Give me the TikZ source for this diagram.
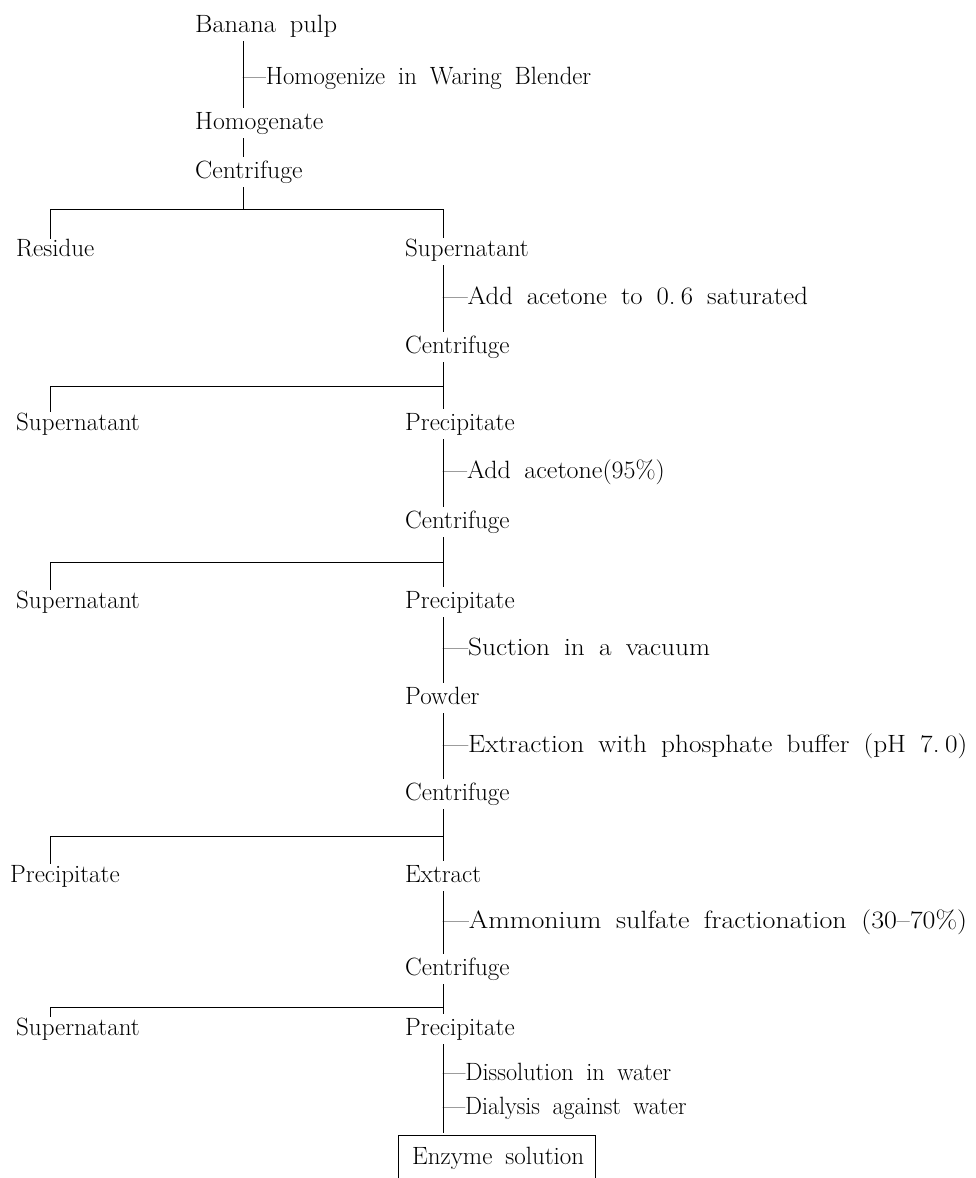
\documentclass[tikz,border=0pt]{standalone}
\usepackage{graphicx}
\newcommand{\diafont}{\fontsize{25}{30}\selectfont\spaceskip=13pt plus 2pt minus 1pt\relax}
\newcommand{\sx}[2]{\scalebox{#1}[1]{#2}}
\begin{document}
\begin{tikzpicture}[x=1pt,y=-1pt,
  lbl/.style={inner sep=0pt, anchor=base west, text height=17pt, text depth=5pt, font=\diafont},
  link/.style={draw=black, line width=0.8pt, shorten <=4pt, shorten >=4pt},
  rule/.style={draw=black, line width=0.8pt}]
\useasboundingbox (0,0) rectangle (976,1178);
% columns
\coordinate (A) at (243,0);
\coordinate (B) at (443,0);
\coordinate (L) at (50,0);
% top
\node[lbl] (banana) at (195,32) {\sx{1.06}{Banana pulp}};
\node[lbl] (st0) at (243,84) {\sx{0.99}{—Homogenize in Waring Blender}};
\node[lbl] (homog) at (195,129) {\sx{1.03}{Homogenate}};
\node[lbl] (cent0) at (195,178) {\sx{1.03}{Centrifuge}};
\node[lbl] (res1) at (16,256) {Residue};
\node[lbl] (sup1) at (405,256) {Supernatant};
% block 1
\node[lbl] (st1) at (443,304) {\sx{1.07}{—Add acetone to 0.\hspace{5pt}6 saturated}};
\node[lbl] (cent1) at (405,353) {Centrifuge};
\node[lbl] (sup2) at (16,430) {Supernatant};
\node[lbl] (prec2) at (405,430) {Precipitate};
% block 2
\node[lbl] (st2) at (443,478) {\sx{1.04}{—Add acetone(95\%)}};
\node[lbl] (cent2) at (405,528) {Centrifuge};
\node[lbl] (sup3) at (16,608) {Supernatant};
\node[lbl] (prec3) at (405,608) {Precipitate};
% block 3
\node[lbl] (st3) at (443,655) {\sx{1.09}{—Suction in a vacuum}};
\node[lbl] (powder) at (405,704) {Powder};
\node[lbl] (st4) at (443,752) {\sx{1.09}{—Extraction with phosphate buffer (pH 7.\hspace{5pt}0)}};
\node[lbl] (cent3) at (405,800) {Centrifuge};
\node[lbl] (prec4) at (10,882) {Precipitate};
\node[lbl] (extr) at (405,882) {Extract};
% block 4
\node[lbl] (st5) at (443,928) {\sx{1.12}{—Ammonium sulfate fractionation (30–70\%)}};
\node[lbl] (cent4) at (405,975) {Centrifuge};
\node[lbl] (sup5) at (16,1035) {Supernatant};
\node[lbl] (prec5) at (405,1035) {Precipitate};
\node[lbl] (st6) at (443,1080) {\sx{0.97}{—Dissolution in water}};
\node[lbl] (st7) at (443,1114) {\sx{0.96}{—Dialysis against water}};
\node[lbl] (enz) at (412,1164) {Enzyme solution};
% split points
\coordinate (h0) at (0,209);
\coordinate (h1) at (0,386);
\coordinate (h2) at (0,562);
\coordinate (h3) at (0,836);
\coordinate (h4) at (0,1007);
\coordinate (bl) at (398,1135);
\coordinate (br) at (595,1135);
\coordinate (bot) at (0,1178);
% top connectors
\path[link] (banana.south -| A) -- (homog.north -| A);
\path[link] (homog.south -| A) -- (cent0.north -| A);
\path[link, shorten >=0pt] (cent0.south -| A) -- (A |- h0);
\path[link, shorten <=0pt, shorten >=1pt] (L |- res1.north) -- (L |- h0) -- (B |- h0) -- (B |- sup1.north);
% block 1
\path[link] (sup1.south -| B) -- (cent1.north -| B);
\path[link] (cent1.south -| B) -- (prec2.north -| B);
\path[rule, shorten >=1pt] (B |- h1) -- (L |- h1) -- (L |- sup2.north);
% block 2
\path[link] (prec2.south -| B) -- (cent2.north -| B);
\path[link] (cent2.south -| B) -- (prec3.north -| B);
\path[rule, shorten >=1pt] (B |- h2) -- (L |- h2) -- (L |- sup3.north);
% block 3
\path[link] (prec3.south -| B) -- (powder.north -| B);
\path[link] (powder.south -| B) -- (cent3.north -| B);
\path[link] (cent3.south -| B) -- (extr.north -| B);
\path[rule, shorten >=1pt] (B |- h3) -- (L |- h3) -- (L |- prec4.north);
% block 4
\path[link] (extr.south -| B) -- (cent4.north -| B);
\path[link] (cent4.south -| B) -- (prec5.north -| B);
\path[rule, shorten >=1pt] (B |- h4) -- (L |- h4) -- (L |- sup5.north);
\path[link, shorten >=2pt] (prec5.south -| B) -- (B |- bl);
% enzyme box (open at bottom)
\path[rule] (bl |- bot) -- (bl) -- (br) -- (br |- bot);
\end{tikzpicture}
\end{document}
